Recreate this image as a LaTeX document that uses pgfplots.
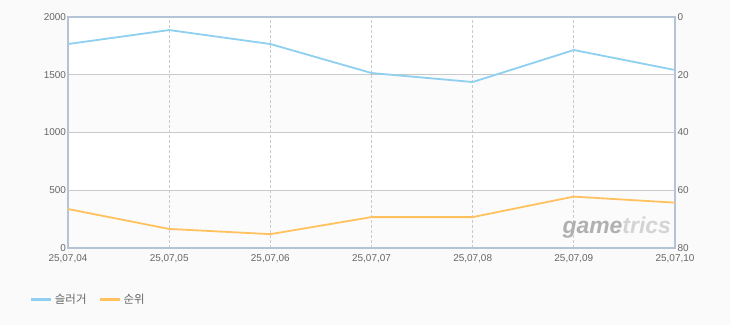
\documentclass[border=0pt]{standalone}
\usepackage{pgfplots}
\pgfplotsset{compat=1.18}
\usepackage{fontspec}
\setmainfont{Liberation Sans}
\newfontfamily\kr{Noto Sans CJK KR}
\definecolor{bg}{HTML}{FAFAFA}
\definecolor{band}{HTML}{FBFBFB}
\definecolor{axisc}{HTML}{B4C4D6}
\definecolor{gridc}{HTML}{CACACA}
\definecolor{tickc}{HTML}{666666}
\definecolor{bluec}{HTML}{8FD0F0}
\definecolor{orangec}{HTML}{FFC25E}
\definecolor{wmA}{HTML}{B0B0B0}
\definecolor{wmB}{HTML}{D4D4D4}
\pgfplotsset{
  common/.style={
    scale only axis, width=607bp, height=231bp,
    at={(68bp,77bp)}, anchor=south west,
    xmin=0, xmax=6,
    axis line style={draw=axisc, line width=1.6bp},
    major tick length=0pt,
    tick label style={font=\fontsize{10}{12}\selectfont, text=tickc},
    /pgf/number format/assume math mode=true,
    /pgf/number format/1000 sep={},
  }
}
\begin{document}
\begin{tikzpicture}[x=1bp,y=1bp]
\fill[bg] (0,0) rectangle (730,325);
\fill[white] (68,77) rectangle (675,308);
\fill[band] (68,77) rectangle (675,134.75);
\fill[band] (68,192.5) rectangle (675,250.25);
\begin{axis}[common,
  ymin=0, ymax=2000, ytick={0,500,1000,1500,2000},
  ytick pos=left, xtick pos=bottom,
  xtick={0,...,6},
  xticklabels={{25,07,04},{25,07,05},{25,07,06},{25,07,07},{25,07,08},{25,07,09},{25,07,10}},
  xticklabel style={yshift=-3bp},
  yticklabel style={xshift=1.5bp},
  xmajorgrids, ymajorgrids,
  x grid style={gridc, line width=0.7bp, dash pattern=on 3bp off 2bp},
  y grid style={gridc, line width=0.8bp},
]
\node[anchor=center] at (rel axis cs:0.904,0.088) {\fontsize{23}{23}\selectfont\bfseries\itshape\textcolor{wmA}{game}\textcolor{wmB}{trics}};
\addplot[bluec, line width=1.8bp] coordinates {
(0,1766) (1,1887) (2,1766) (3,1515) (4,1437) (5,1714) (6,1541)};
\end{axis}
\begin{axis}[common,
  ymin=0, ymax=80, y dir=reverse, ytick={0,20,40,60,80},
  axis y line*=right, hide x axis,
  yticklabel style={xshift=-1bp},
  legend style={at={(rel axis cs:-0.063,-0.225)}, anchor=west, draw=none, fill=none,
    inner sep=0pt, font=\kr\fontsize{11.5}{13}\selectfont, text=tickc,
    /tikz/every even column/.append style={column sep=10bp}},
  legend columns=2, legend cell align=left,
  legend image code/.code={\draw[#1, line width=3bp] (0bp,0bp) -- (20bp,0bp);},
]
\addlegendimage{bluec}
\addlegendentry{슬러거}
\addplot[orangec, line width=1.8bp] coordinates {
(0,66.5) (1,73.4) (2,75.2) (3,69.3) (4,69.3) (5,62.2) (6,64.3)};
\addlegendentry{순위}
\end{axis}
\end{tikzpicture}
\end{document}
